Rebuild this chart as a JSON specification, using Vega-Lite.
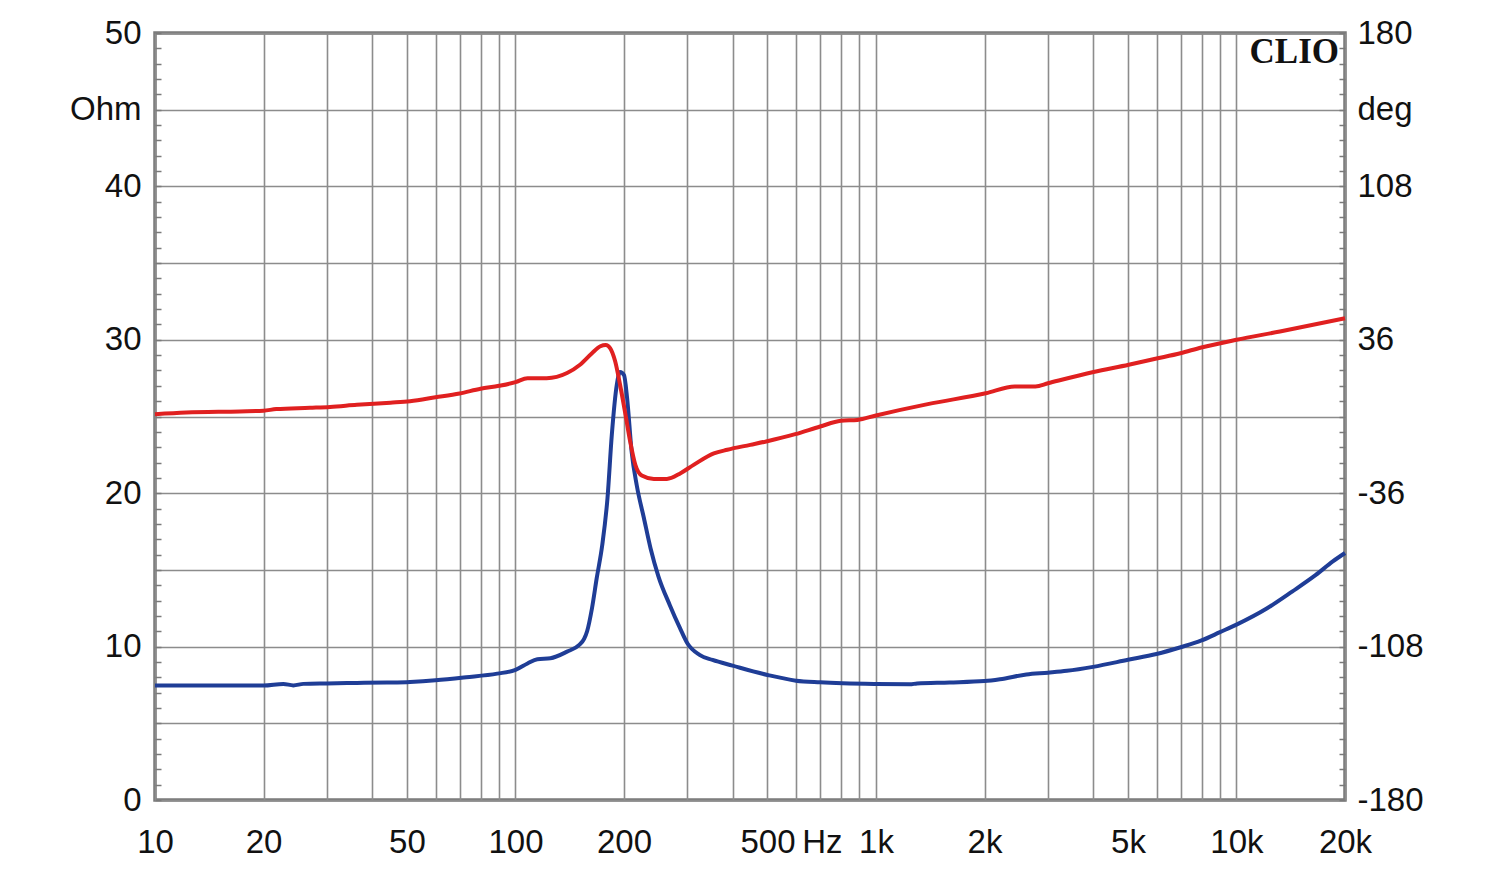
{
  "$schema": "https://vega.github.io/schema/vega-lite/v6.json",
  "width": 1190,
  "height": 767,
  "autosize": "none",
  "padding": {"left": 155, "top": 33, "right": 155, "bottom": 70},
  "background": "white",
  "view": {"stroke": "#7a7a7a", "strokeWidth": 3.5},
  "datasets": {
    "impedance": [
      {"freq": 10, "ohm": 7.46}, {"freq": 15, "ohm": 7.46}, {"freq": 20, "ohm": 7.46}, {"freq": 22.7, "ohm": 7.57},
      {"freq": 24.2, "ohm": 7.47}, {"freq": 25.8, "ohm": 7.57}, {"freq": 30, "ohm": 7.6}, {"freq": 36.3, "ohm": 7.63},
      {"freq": 44, "ohm": 7.66}, {"freq": 51, "ohm": 7.7}, {"freq": 60, "ohm": 7.8}, {"freq": 73, "ohm": 8.0},
      {"freq": 89, "ohm": 8.24}, {"freq": 100, "ohm": 8.48}, {"freq": 108, "ohm": 8.9}, {"freq": 115, "ohm": 9.18},
      {"freq": 125, "ohm": 9.24}, {"freq": 139, "ohm": 9.67}, {"freq": 150, "ohm": 10.1}, {"freq": 155, "ohm": 10.5},
      {"freq": 158, "ohm": 11.0}, {"freq": 163, "ohm": 12.5}, {"freq": 168, "ohm": 14.46}, {"freq": 174, "ohm": 16.6},
      {"freq": 180, "ohm": 19.7}, {"freq": 185, "ohm": 23.8}, {"freq": 191, "ohm": 27.07}, {"freq": 195, "ohm": 27.9},
      {"freq": 200, "ohm": 27.7}, {"freq": 204, "ohm": 26.2}, {"freq": 210, "ohm": 22.7}, {"freq": 217, "ohm": 20.5},
      {"freq": 227, "ohm": 18.4}, {"freq": 237, "ohm": 16.4}, {"freq": 249, "ohm": 14.6}, {"freq": 268, "ohm": 12.7},
      {"freq": 286, "ohm": 11.2}, {"freq": 300, "ohm": 10.2}, {"freq": 324, "ohm": 9.46}, {"freq": 352, "ohm": 9.13},
      {"freq": 400, "ohm": 8.76}, {"freq": 500, "ohm": 8.15}, {"freq": 600, "ohm": 7.78}, {"freq": 700, "ohm": 7.67},
      {"freq": 1000, "ohm": 7.56}, {"freq": 1242, "ohm": 7.54}, {"freq": 1300, "ohm": 7.6}, {"freq": 1600, "ohm": 7.66},
      {"freq": 2000, "ohm": 7.75}, {"freq": 2207, "ohm": 7.87}, {"freq": 2613, "ohm": 8.18}, {"freq": 3000, "ohm": 8.3},
      {"freq": 3385, "ohm": 8.42}, {"freq": 4000, "ohm": 8.68}, {"freq": 5000, "ohm": 9.14}, {"freq": 6000, "ohm": 9.52},
      {"freq": 7000, "ohm": 9.96}, {"freq": 8000, "ohm": 10.4}, {"freq": 9000, "ohm": 10.94}, {"freq": 10000, "ohm": 11.43},
      {"freq": 12130, "ohm": 12.48}, {"freq": 14300, "ohm": 13.6}, {"freq": 16600, "ohm": 14.67}, {"freq": 18500, "ohm": 15.55},
      {"freq": 20000, "ohm": 16.1}
    ],
    "phase": [
      {"freq": 10, "deg": 1.1}, {"freq": 12.2, "deg": 1.9}, {"freq": 17.2, "deg": 2.4}, {"freq": 20, "deg": 2.7},
      {"freq": 21.7, "deg": 3.5}, {"freq": 26.9, "deg": 4.1}, {"freq": 30.6, "deg": 4.5}, {"freq": 36.3, "deg": 5.5},
      {"freq": 45, "deg": 6.5}, {"freq": 51, "deg": 7.2}, {"freq": 60, "deg": 9.0}, {"freq": 70, "deg": 10.8},
      {"freq": 80, "deg": 13.0}, {"freq": 90, "deg": 14.4}, {"freq": 100, "deg": 16.1}, {"freq": 108, "deg": 18.0},
      {"freq": 122, "deg": 18.0}, {"freq": 139, "deg": 20.4}, {"freq": 151, "deg": 24.3}, {"freq": 163, "deg": 29.7},
      {"freq": 172, "deg": 33.0}, {"freq": 178, "deg": 33.6}, {"freq": 183, "deg": 32.1}, {"freq": 189, "deg": 25.9},
      {"freq": 195, "deg": 14.9}, {"freq": 202, "deg": 0.7}, {"freq": 208, "deg": -11.7}, {"freq": 215, "deg": -22.7},
      {"freq": 224, "deg": -27.7}, {"freq": 242, "deg": -29.3}, {"freq": 263, "deg": -29.3}, {"freq": 287, "deg": -26.6},
      {"freq": 312, "deg": -22.7}, {"freq": 355, "deg": -17.3}, {"freq": 387, "deg": -15.6}, {"freq": 448, "deg": -13.3},
      {"freq": 496, "deg": -11.7}, {"freq": 597, "deg": -8.3}, {"freq": 700, "deg": -4.7}, {"freq": 799, "deg": -2.0},
      {"freq": 888, "deg": -1.6}, {"freq": 1000, "deg": 0.5}, {"freq": 1392, "deg": 5.8}, {"freq": 2016, "deg": 10.9},
      {"freq": 2427, "deg": 14.1}, {"freq": 2769, "deg": 14.1}, {"freq": 3000, "deg": 15.6}, {"freq": 4013, "deg": 20.9},
      {"freq": 5024, "deg": 24.3}, {"freq": 5960, "deg": 27.1}, {"freq": 6990, "deg": 29.7}, {"freq": 7990, "deg": 32.4},
      {"freq": 10000, "deg": 36.0}, {"freq": 13200, "deg": 39.9}, {"freq": 20000, "deg": 46.1}
    ]
  },
  "encoding": {
    "x": {
      "field": "freq",
      "type": "quantitative",
      "scale": {"type": "log", "domain": [10, 20000], "nice": false, "zero": false},
      "axis": {
        "title": null,
        "values": [10, 20, 30, 40, 50, 60, 70, 80, 90, 100, 200, 300, 400, 500, 600, 700, 708, 800, 900, 1000, 2000, 3000, 4000, 5000, 6000, 7000, 8000, 9000, 10000, 20000],
        "labelExpr": "datum.value == 708 ? 'Hz' : (indexof([10,20,50,100,200,500,1000,2000,5000,10000,20000], datum.value) >= 0 ? (datum.value >= 1000 ? (datum.value / 1000) + 'k' : '' + datum.value) : '')",
        "grid": true,
        "gridColor": "#8c8c8c",
        "gridWidth": 1.6,
        "gridOpacity": {"condition": {"test": "datum.value == 708", "value": 0}, "value": 1},
        "ticks": false,
        "domain": false,
        "labelPadding": 26,
        "labelFont": "Liberation Sans",
        "labelFontSize": 33,
        "labelColor": "#111111",
        "labelOverlap": false,
        "labelBound": false,
        "labelFlush": false
      }
    }
  },
  "layer": [
    {
      "data": {"name": "impedance"},
      "mark": {"type": "line", "color": "#1f3d96", "strokeWidth": 4, "interpolate": "monotone"},
      "encoding": {
        "y": {
          "field": "ohm",
          "type": "quantitative",
          "scale": {"domain": [0, 50], "nice": false, "zero": false},
          "axis": {
            "orient": "left",
            "title": null,
            "values": [0,1,2,3,4,5,6,7,8,9,10,11,12,13,14,15,16,17,18,19,20,21,22,23,24,25,26,27,28,29,30,31,32,33,34,35,36,37,38,39,40,41,42,43,44,45,46,47,48,49,50],
            "labelExpr": "datum.value == 45 ? 'Ohm' : (datum.value % 10 == 0 ? '' + datum.value : '')",
            "grid": true,
            "gridColor": "#8c8c8c",
            "gridWidth": 1.6,
            "gridOpacity": {"condition": {"test": "datum.value % 5 == 0", "value": 1}, "value": 0},
            "ticks": true,
            "tickSize": -6,
            "tickColor": "#7a7a7a",
            "tickWidth": 1.5,
            "domain": false,
            "labelPadding": 20,
            "labelFont": "Liberation Sans",
            "labelFontSize": 33,
            "labelColor": "#111111",
            "labelOverlap": false,
            "labelBound": false,
            "labelFlush": false
          }
        }
      }
    },
    {
      "data": {"name": "phase"},
      "mark": {"type": "line", "color": "#e02020", "strokeWidth": 4, "interpolate": "monotone"},
      "encoding": {
        "y": {
          "field": "deg",
          "type": "quantitative",
          "scale": {"domain": [-180, 180], "nice": false, "zero": false},
          "axis": {
            "orient": "right",
            "title": null,
            "values": [-180, -172.8, -165.6, -158.4, -151.2, -144, -136.8, -129.6, -122.4, -115.2, -108, -100.8, -93.6, -86.4, -79.2, -72, -64.8, -57.6, -50.4, -43.2, -36, -28.8, -21.6, -14.4, -7.2, 0, 7.2, 14.4, 21.6, 28.8, 36, 43.2, 50.4, 57.6, 64.8, 72, 79.2, 86.4, 93.6, 100.8, 108, 115.2, 122.4, 129.6, 136.8, 144, 151.2, 158.4, 165.6, 172.8, 180],
            "labelExpr": "datum.value == 144 ? 'deg' : (indexof([-180,-108,-36,36,108,180], datum.value) >= 0 ? '' + datum.value : '')",
            "grid": false,
            "ticks": true,
            "tickSize": -6,
            "tickColor": "#7a7a7a",
            "tickWidth": 1.5,
            "domain": false,
            "labelPadding": 18,
            "labelFont": "Liberation Sans",
            "labelFontSize": 33,
            "labelColor": "#111111",
            "labelOverlap": false,
            "labelBound": false,
            "labelFlush": false
          }
        }
      }
    },
    {
      "data": {"values": [{"freq": 20000, "ohm": 50, "label": "CLIO"}]},
      "mark": {"type": "text", "font": "Liberation Serif", "fontWeight": "bold", "fontSize": 35, "align": "right", "baseline": "top", "dx": -6, "dy": 2, "color": "#111111"},
      "encoding": {
        "y": {"field": "ohm", "type": "quantitative", "scale": {"domain": [0, 50], "nice": false, "zero": false}, "axis": null},
        "text": {"field": "label"}
      }
    }
  ],
  "resolve": {"scale": {"y": "independent"}, "axis": {"y": "independent"}}
}
